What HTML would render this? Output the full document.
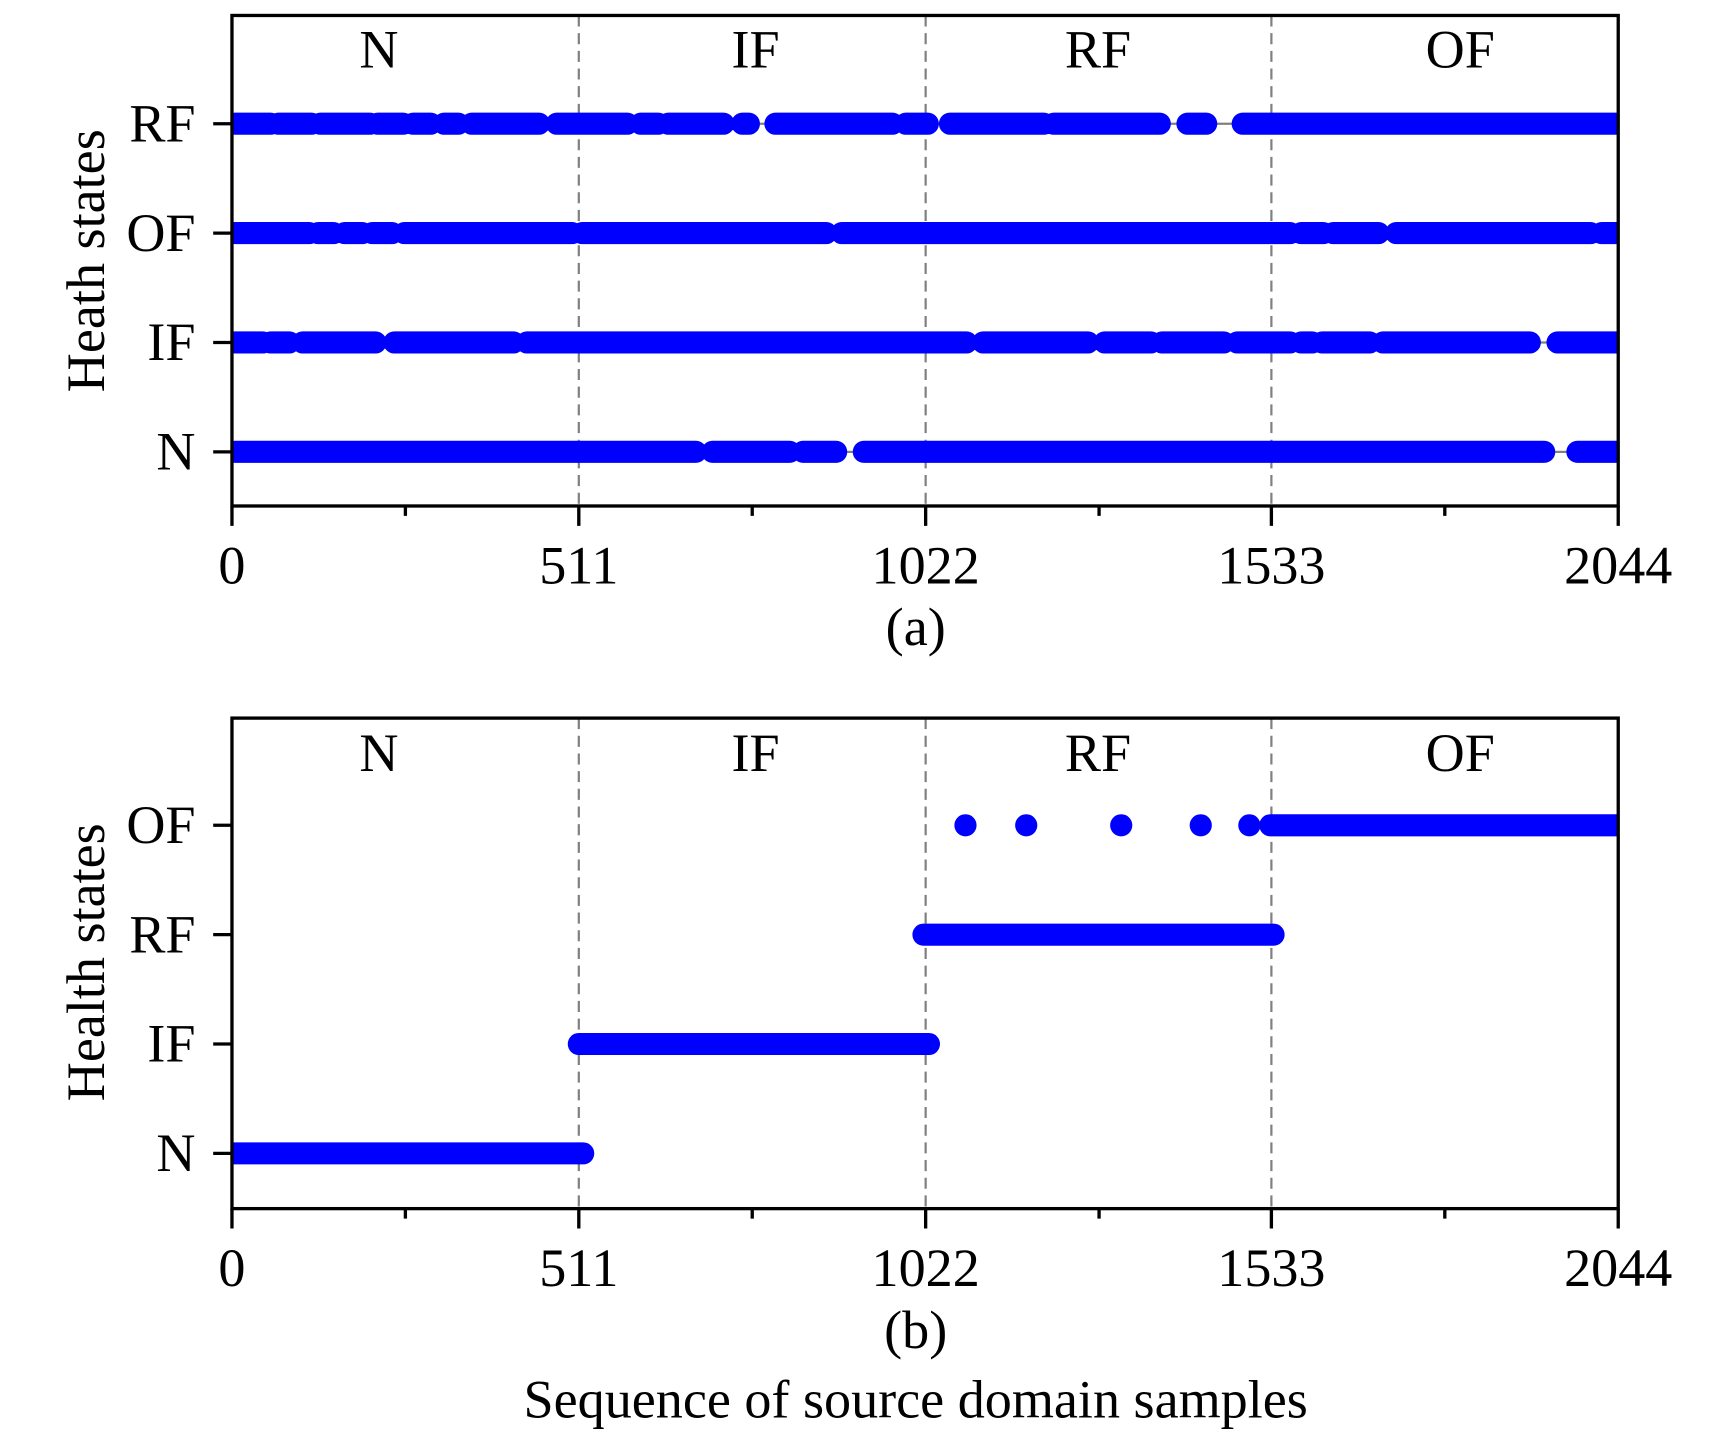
<!DOCTYPE html>
<html><head><style>html,body{margin:0;padding:0;background:#fff}svg{display:block}</style></head>
<body>
<svg width="1732" height="1434" viewBox="0 0 1568 1298" preserveAspectRatio="none" xmlns="http://www.w3.org/2000/svg" font-family="Liberation Serif, serif">
<defs>
<clipPath id="ca"><rect x="210" y="14" width="1255" height="444"/></clipPath>
<clipPath id="cb"><rect x="210" y="650" width="1255" height="444"/></clipPath>
</defs>
<g stroke="#808080" stroke-width="2" stroke-dasharray="10,6">
<line x1="524" y1="14" x2="524" y2="458"/><line x1="838" y1="14" x2="838" y2="458"/><line x1="1151" y1="14" x2="1151" y2="458"/>
<line x1="524" y1="650" x2="524" y2="1094"/><line x1="838" y1="650" x2="838" y2="1094"/><line x1="1151" y1="650" x2="1151" y2="1094"/>
</g>
<g stroke="#808080" stroke-width="2">
<line x1="210" y1="112" x2="1465" y2="112"/><line x1="210" y1="211" x2="1465" y2="211"/><line x1="210" y1="310" x2="1465" y2="310"/><line x1="210" y1="409" x2="1465" y2="409"/>
</g>
<g clip-path="url(#ca)" stroke="#0000ff" stroke-width="20" stroke-linecap="round">
<path d="M213 112H245M252 112H282M290 112H335M342 112H365M374 112H390M402 112H415M427 112H488M504 112H568M580 112H596M605 112H655M672 112H678M702 112H808M820 112H840M860 112H945M954 112H1050M1075 112H1092M1125 112H1475"/>
<path d="M213 211H280M288 211H302M312 211H328M337 211H355M366 211H518M527 211H748M762 211H1168M1178 211H1198M1207 211H1248M1264 211H1440M1450 211H1475"/>
<path d="M213 310H238M245 310H262M274 310H340M357 310H465M477 310H875M890 310H985M1000 310H1042M1052 310H1108M1120 310H1168M1178 310H1188M1197 310H1240M1252 310H1385M1410 310H1475"/>
<path d="M213 409H630M645 409H715M727 409H757M782 409H1398M1428 409H1475"/>
</g>
<g clip-path="url(#cb)" stroke="#0000ff" stroke-width="20" stroke-linecap="round">
<path d="M205 1044H528M524 945H841M836 846H1153M1150 747H1475M874 747H874.1M929 747H929.1M1015 747H1015.1M1087 747H1087.1M1131 747H1131.1"/>
</g>
<g fill="none" stroke="#000" stroke-width="3">
<rect x="210" y="14" width="1255" height="444"/>
<rect x="210" y="650" width="1255" height="444"/>
<path d="M193 112H210M193 211H210M193 310H210M193 409H210M193 747H210M193 846H210M193 945H210M193 1044H210"/>
<path d="M210 458v18M524 458v18M838 458v18M1151 458v18M1465 458v18M367 458v9M681 458v9M995 458v9M1308 458v9"/>
<path d="M210 1094v18M524 1094v18M838 1094v18M1151 1094v18M1465 1094v18M367 1094v9M681 1094v9M995 1094v9M1308 1094v9"/>
</g>
<g font-size="49" fill="#000">
<g text-anchor="middle">
<text x="343" y="61">N</text><text x="684" y="61">IF</text><text x="994" y="61">RF</text><text x="1322" y="61">OF</text>
<text x="343" y="698">N</text><text x="684" y="698">IF</text><text x="994" y="698">RF</text><text x="1322" y="698">OF</text>
<text x="210" y="528">0</text><text x="524" y="528">511</text><text x="838" y="528">1022</text><text x="1151" y="528">1533</text><text x="1465" y="528">2044</text>
<text x="210" y="1164">0</text><text x="524" y="1164">511</text><text x="838" y="1164">1022</text><text x="1151" y="1164">1533</text><text x="1465" y="1164">2044</text>
<text x="829" y="584">(a)</text><text x="829" y="1220">(b)</text>
<text x="829" y="1283">Sequence of source domain samples</text>
</g>
<g text-anchor="end">
<text x="177" y="128">RF</text><text x="177" y="227">OF</text><text x="177" y="326">IF</text><text x="177" y="425">N</text>
<text x="177" y="763">OF</text><text x="177" y="862">RF</text><text x="177" y="961">IF</text><text x="177" y="1060">N</text>
</g>
<text transform="translate(94,236) rotate(-90)" text-anchor="middle">Heath states</text>
<text transform="translate(94,871) rotate(-90)" text-anchor="middle">Health states</text>
</g>
</svg>
</body></html>
